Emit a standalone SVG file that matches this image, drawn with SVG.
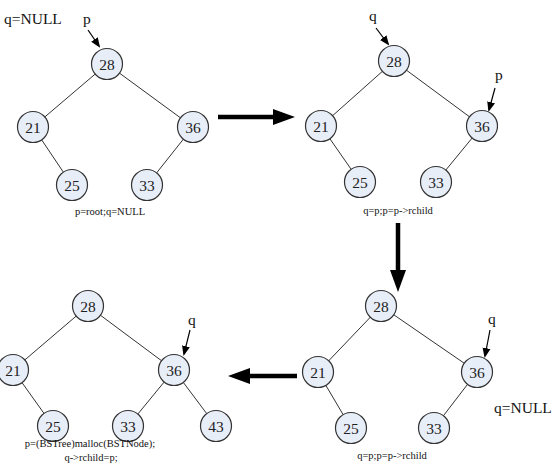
<svg xmlns="http://www.w3.org/2000/svg" width="553" height="469" viewBox="0 0 553 469">
<defs>
<marker id="sa" viewBox="0 0 10 10" refX="8" refY="5" markerWidth="10" markerHeight="10" markerUnits="userSpaceOnUse" orient="auto">
<path d="M0,1 L10,5 L0,9 Z" fill="#000"/>
</marker>
<marker id="ba" viewBox="0 0 22 16" refX="10" refY="8" markerWidth="22" markerHeight="16" markerUnits="userSpaceOnUse" orient="auto">
<path d="M0,0 L22,8 L0,16 Z" fill="#000"/>
</marker>
</defs>
<style>
.n circle{fill:#e8eef8;stroke:#333;stroke-width:1.2}
.n text{font-family:"Liberation Serif",serif;font-size:15.5px;text-anchor:middle;fill:#222}
.e line{stroke:#333;stroke-width:1}
.e line.ptr{stroke:#000;stroke-width:1.2;marker-end:url(#sa)}
.e line.big{stroke:#000;stroke-width:4.5;marker-end:url(#ba)}
.lbl{font-family:"Liberation Serif",serif;font-size:15.5px;fill:#111}
.cap{font-family:"Liberation Serif",serif;font-size:10.5px;fill:#111;text-anchor:middle}
</style>
<rect width="553" height="469" fill="#fff"/>
<g id="connectors" class="e">
<line x1="107" y1="64" x2="33" y2="127"/><line x1="107" y1="64" x2="193" y2="127"/><line x1="33" y1="127" x2="72" y2="185"/><line x1="193" y1="127" x2="147" y2="185"/>
<line x1="394" y1="61" x2="321" y2="126"/><line x1="394" y1="61" x2="482" y2="126"/><line x1="321" y1="126" x2="360" y2="182"/><line x1="482" y1="126" x2="436" y2="182"/>
<line x1="381" y1="306" x2="318" y2="372"/><line x1="381" y1="306" x2="477" y2="372"/><line x1="318" y1="372" x2="351" y2="428"/><line x1="477" y1="372" x2="434" y2="428"/>
<line x1="88" y1="306" x2="13" y2="370"/><line x1="88" y1="306" x2="174" y2="370"/><line x1="13" y1="370" x2="53" y2="426"/><line x1="174" y1="370" x2="128" y2="426"/><line x1="174" y1="370" x2="216" y2="426"/>
<line class="ptr" x1="88" y1="30" x2="99" y2="46"/>
<line class="ptr" x1="376" y1="28" x2="388" y2="44"/>
<line class="ptr" x1="495" y1="88" x2="489" y2="110"/>
<line class="ptr" x1="490" y1="330" x2="485" y2="356"/>
<line class="ptr" x1="190" y1="330" x2="184" y2="354"/>
<line class="big" x1="218" y1="117" x2="283" y2="117"/>
<line class="big" x1="398" y1="223" x2="398" y2="280"/>
<line class="big" x1="297" y1="376" x2="240" y2="376"/>
</g>
<g id="t1-28" class="n"><circle cx="107" cy="64" r="15.5"/><text x="107" y="70">28</text></g>
<g id="t1-21" class="n"><circle cx="33" cy="127" r="15.5"/><text x="33" y="133">21</text></g>
<g id="t1-36" class="n"><circle cx="193" cy="127" r="15.5"/><text x="193" y="133">36</text></g>
<g id="t1-25" class="n"><circle cx="72" cy="185" r="15.5"/><text x="72" y="191">25</text></g>
<g id="t1-33" class="n"><circle cx="147" cy="185" r="15.5"/><text x="147" y="191">33</text></g>
<g id="t2-28" class="n"><circle cx="394" cy="61" r="15.5"/><text x="394" y="67">28</text></g>
<g id="t2-21" class="n"><circle cx="321" cy="126" r="15.5"/><text x="321" y="132">21</text></g>
<g id="t2-36" class="n"><circle cx="482" cy="126" r="15.5"/><text x="482" y="132">36</text></g>
<g id="t2-25" class="n"><circle cx="360" cy="182" r="15.5"/><text x="360" y="188">25</text></g>
<g id="t2-33" class="n"><circle cx="436" cy="182" r="15.5"/><text x="436" y="188">33</text></g>
<g id="t3-28" class="n"><circle cx="381" cy="306" r="15.5"/><text x="381" y="312">28</text></g>
<g id="t3-21" class="n"><circle cx="318" cy="372" r="15.5"/><text x="318" y="378">21</text></g>
<g id="t3-36" class="n"><circle cx="477" cy="372" r="15.5"/><text x="477" y="378">36</text></g>
<g id="t3-25" class="n"><circle cx="351" cy="428" r="15.5"/><text x="351" y="434">25</text></g>
<g id="t3-33" class="n"><circle cx="434" cy="428" r="15.5"/><text x="434" y="434">33</text></g>
<g id="t4-28" class="n"><circle cx="88" cy="306" r="15.5"/><text x="88" y="312">28</text></g>
<g id="t4-21" class="n"><circle cx="13" cy="370" r="15.5"/><text x="13" y="376">21</text></g>
<g id="t4-36" class="n"><circle cx="174" cy="370" r="15.5"/><text x="174" y="376">36</text></g>
<g id="t4-25" class="n"><circle cx="53" cy="426" r="15.5"/><text x="53" y="432">25</text></g>
<g id="t4-33" class="n"><circle cx="128" cy="426" r="15.5"/><text x="128" y="432">33</text></g>
<g id="t4-43" class="n"><circle cx="216" cy="426" r="15.5"/><text x="216" y="432">43</text></g>
<g id="labels">
<text class="lbl" x="4" y="24">q=NULL</text>
<text class="lbl" x="83" y="24">p</text>
<text class="lbl" x="369" y="21">q</text>
<text class="lbl" x="495" y="80">p</text>
<text class="lbl" x="488" y="324">q</text>
<text class="lbl" x="494" y="413">q=NULL</text>
<text class="lbl" x="188" y="325">q</text>
<text class="cap" x="110" y="215">p=root;q=NULL</text>
<text class="cap" x="398" y="214">q=p;p=p-&gt;rchild</text>
<text class="cap" x="392" y="459">q=p;p=p-&gt;rchild</text>
<text class="cap" x="90" y="447">p=(BSTree)malloc(BSTNode);</text>
<text class="cap" x="91" y="461">q-&gt;rchild=p;</text>
</g>
</svg>
